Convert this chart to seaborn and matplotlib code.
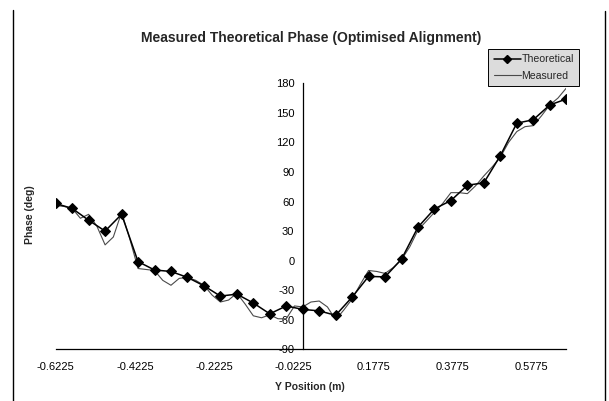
import matplotlib
matplotlib.use("Agg")
import matplotlib.pyplot as plt
import pandas as pd
import seaborn as sns
from matplotlib.lines import Line2D

# Theoretical phase (markers)
theo_x = [-0.6225, -0.581, -0.5395, -0.498, -0.4565, -0.415, -0.3735, -0.332,
          -0.2905, -0.249, -0.2075, -0.166, -0.1245, -0.083, -0.0415, 0.0,
          0.0415, 0.083, 0.1245, 0.166, 0.2075, 0.249, 0.2905, 0.332,
          0.3735, 0.415, 0.4565, 0.498, 0.5395, 0.581, 0.6225, 0.664]
theo_y = [58, 53, 41, 30, 47, -1, -9.5, -11, -17, -25.5, -36, -34, -43, -54, -46, -49.5,
          -51, -55.5, -37, -16, -16.5, 1.5, 34, 52.5, 61, 76.5, 79, 106.5, 139.5, 143, 158, 164]

# Measured phase (finer sampling)
meas_x = [-0.6225, -0.60175, -0.581, -0.56025, -0.5395, -0.51875, -0.498, -0.47725,
          -0.4565, -0.43575, -0.415, -0.39425, -0.3735, -0.35275, -0.332, -0.31125,
          -0.2905, -0.26975, -0.249, -0.22825, -0.2075, -0.18675, -0.166, -0.14525,
          -0.1245, -0.10375, -0.083, -0.06225, -0.0415, -0.02075, 0.0, 0.02075,
          0.0415, 0.06225, 0.083, 0.10375, 0.1245, 0.14525, 0.166, 0.18675,
          0.2075, 0.22825, 0.249, 0.26975, 0.2905, 0.31125, 0.332, 0.35275,
          0.3735, 0.39425, 0.415, 0.43575, 0.4565, 0.47725, 0.498, 0.51875,
          0.5395, 0.56025, 0.581, 0.60175, 0.6225, 0.64325, 0.664]
meas_y = [56, 55, 53, 43, 47, 35, 16, 24, 49, 22, -8, -9, -10, -20, -25, -18,
          -17, -20, -25, -35, -42, -40, -33, -44, -56, -58, -55, -59, -59, -46, -47, -42,
          -41, -47, -60, -50, -39, -24, -10, -11, -13, -7, 1, 14, 31, 40,
          49, 58, 69, 69, 68, 76, 86, 95, 105, 120, 131, 136, 137, 147, 158, 165, 175]

x_ticks = [-0.6225, -0.4225, -0.2225, -0.0225, 0.1775, 0.3775, 0.5775]
y_ticks = [-90, -60, -30, 0, 30, 60, 90, 120, 150, 180]

sns.set_style("white")
plt.rcParams["font.family"] = ["Liberation Sans", "DejaVu Sans"]

theo = pd.DataFrame({"x": theo_x, "y": theo_y})
meas = pd.DataFrame({"x": meas_x, "y": meas_y})

W, H = 609, 401
fig = plt.figure(figsize=(W / 100, H / 100), dpi=100)
ax = fig.add_axes([55.7 / W, 1 - 349.3 / H, (566.2 - 55.7) / W, (349.3 - 83.3) / H])

sns.lineplot(data=meas, x="x", y="y", ax=ax, color="#4a4a4a", linewidth=0.8,
             sort=False, estimator=None)
sns.lineplot(data=theo, x="x", y="y", ax=ax, color="black", linewidth=1.1,
             marker="D", markersize=5.5, markeredgecolor="black", sort=False, estimator=None)

ax.set_xlim(-0.6225, 0.664)
ax.set_ylim(-90, 180)
ax.set_xticks(x_ticks)
ax.set_xticklabels([f"{v:.4f}" for v in x_ticks])
ax.set_yticks(y_ticks)
ax.set_yticklabels([str(v) for v in y_ticks])

# excel-like axes: y axis crosses at x=0, cross tick marks
for s in ["top", "right"]:
    ax.spines[s].set_visible(False)
ax.spines["left"].set_position(("data", 0))
ax.spines["left"].set_color("black")
ax.spines["bottom"].set_color("black")
ax.spines["left"].set_linewidth(0.9)
ax.spines["bottom"].set_linewidth(0.9)
ax.tick_params(axis="both", direction="inout", length=6, width=0.8, labelsize=8,
               colors="black", pad=3)
ax.tick_params(axis="x", pad=6)
ax.set_xlabel("")
ax.set_ylabel("")
ax.patch.set_alpha(0)

fig.text(311 / W, 1 - 38 / H, "Measured Theoretical Phase (Optimised Alignment)",
         ha="center", va="center", fontsize=10, fontweight="bold")
fig.text(310 / W, 1 - 387 / H, "Y Position (m)", ha="center", va="center",
         fontsize=7.5, fontweight="bold")
fig.text(30 / W, 1 - 215 / H, "Phase (deg)", ha="center", va="center",
         fontsize=7.5, fontweight="bold", rotation=90)

handles = [Line2D([], [], color="black", linewidth=1.1, marker="D", markersize=4.5),
           Line2D([], [], color="#4a4a4a", linewidth=0.8)]
leg = fig.legend(handles, ["Theoretical", "Measured"], loc="upper left",
                 bbox_to_anchor=(488.3 / W, 1 - 49 / H), fontsize=7.6,
                 frameon=True, fancybox=False, framealpha=1, facecolor="#dcdcdc",
                 edgecolor="black", handlelength=2.6, handletextpad=0.05,
                 borderpad=0.5, borderaxespad=0, labelspacing=0.65)
leg.get_frame().set_linewidth(0.7)

# side borders of the chart area
fig.add_artist(Line2D([12.7 / W, 12.7 / W], [0, 1 - 10 / H], color="black",
                      linewidth=1, transform=fig.transFigure))
fig.add_artist(Line2D([605 / W, 605 / W], [0, 1 - 11 / H], color="black",
                      linewidth=1, transform=fig.transFigure))

fig.savefig("out.png", dpi=100)
